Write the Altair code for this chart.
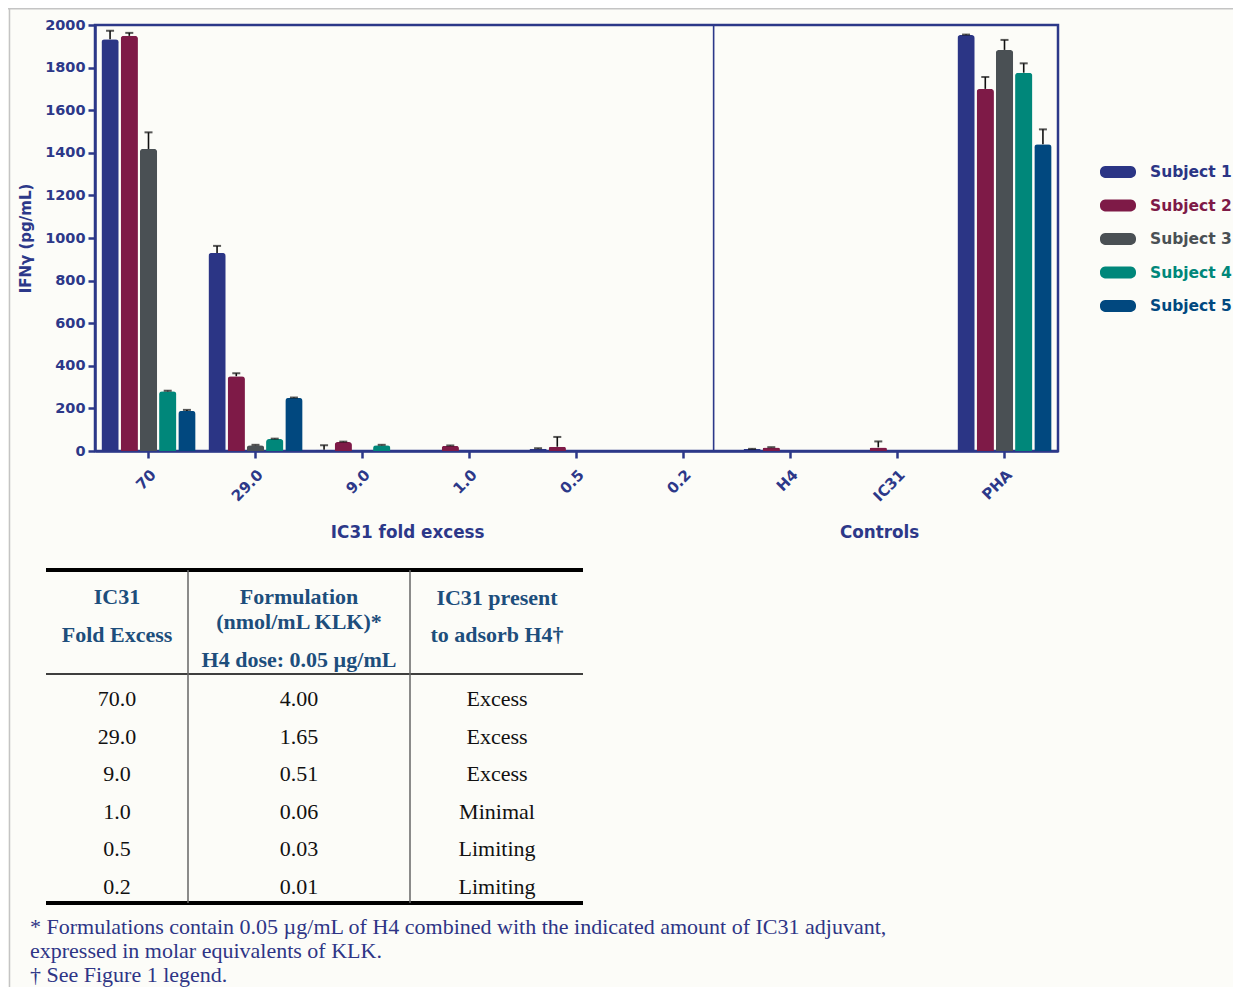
import altair as alt
import pandas as pd

# ---------------- data ----------------
categories = ["70", "29.0", "9.0", "1.0", "0.5", "0.2", "H4", "IC31", "PHA"]
subjects = ["Subject 1", "Subject 2", "Subject 3", "Subject 4", "Subject 5"]
colors = ["#2b3585", "#7e1a47", "#4a5054", "#00877a", "#01487f"]

subject1 = [1933, 930, 6, 3, 11, 0, 9, 0, 1953]
subject2 = [1949, 351, 42, 24, 20, 0, 17, 17, 1700]
subject3 = [1418, 27, 0, 0, 0, 0, 0, 0, 1883]
subject4 = [280, 56, 27, 0, 0, 0, 0, 0, 1776]
subject5 = [188, 249, 0, 0, 0, 0, 0, 0, 1440]

error1 = [40, 33, 21, 0, 2, 0, 1, 0, 2]
error2 = [14, 14, 2, 2, 46, 0, 1, 28, 56]
error3 = [78, 2, 0, 0, 0, 0, 0, 0, 47]
error4 = [3, 2, 2, 0, 0, 0, 0, 0, 44]
error5 = [5, 2, 0, 0, 0, 0, 0, 0, 70]

y_ticks = [0, 200, 400, 600, 800, 1000, 1200, 1400, 1600, 1800, 2000]
y_title = "IFNγ (pg/mL)"
group_titles = ["IC31 fold excess", "Controls"]

fold_excess = ["70.0", "29.0", "9.0", "1.0", "0.5", "0.2"]
formulation = ["4.00", "1.65", "0.51", "0.06", "0.03", "0.01"]
adsorb = ["Excess", "Excess", "Excess", "Minimal", "Limiting", "Limiting"]
header1 = "IC31\nFold Excess"
header2 = "Formulation\n(nmol/mL KLK)*"
header2b = "H4 dose: 0.05 µg/mL"
header3 = "IC31 present\nto adsorb H4†"
footnote = ("* Formulations contain 0.05 µg/mL of H4 combined with the indicated amount of IC31 adjuvant,\n"
            "expressed in molar equivalents of KLK.\n"
            "† See Figure 1 legend.")

# ---------------- tables ----------------
values = [subject1, subject2, subject3, subject4, subject5]
errors = [error1, error2, error3, error4, error5]
rows = []
for subj, vals, errs in zip(subjects, values, errors):
    for c, v, e in zip(categories, vals, errs):
        rows.append({"cat": c, "subject": subj, "value": v, "upper": v + e, "err": e})
df = pd.DataFrame(rows)
err_df = df[(df["err"] > 0) & (df["value"] > 0)]

NAVY = "#2c3889"
W, H = 963, 426

xscale = alt.Scale(domain=categories, paddingInner=0.12, paddingOuter=0.06)
xoff = alt.XOffset("subject:N", scale=alt.Scale(domain=subjects, paddingInner=0.1))
yscale = alt.Scale(domain=[0, 2000])
cscale = alt.Scale(domain=subjects, range=colors)

xenc = alt.X("cat:N", scale=xscale, sort=categories,
             axis=alt.Axis(title=None, labelAngle=-45, labelPadding=9, labelFontSize=15))
yenc = alt.Y("value:Q", scale=yscale,
             axis=alt.Axis(values=y_ticks, format="d", title=y_title, titlePadding=11, labelPadding=3,
                           titleFont="DejaVu Sans", titleFontSize=15, titleFontWeight="bold",
                           titleColor=NAVY))

bars = alt.Chart(df).mark_bar(cornerRadiusTopLeft=3, cornerRadiusTopRight=3).encode(
    x=xenc, xOffset=xoff, y=yenc,
    color=alt.Color("subject:N", scale=cscale, legend=None),
)
err_rule = alt.Chart(err_df).mark_rule(color="#111111", strokeWidth=1.6).encode(
    x=alt.X("cat:N", scale=xscale, sort=categories), xOffset=xoff,
    y=alt.Y("value:Q", scale=yscale), y2="upper:Q",
)
err_cap = alt.Chart(err_df).mark_tick(color="#111111", thickness=2, size=8).encode(
    x=alt.X("cat:N", scale=xscale, sort=categories), xOffset=xoff,
    y=alt.Y("upper:Q", scale=yscale),
)
divider = alt.Chart(pd.DataFrame({"a": [0]})).mark_rule(color=NAVY, strokeWidth=1.6).encode(
    x=alt.XDatum("0.2", type="nominal", bandPosition=0.82),
    y=alt.value(0), y2=alt.value(H),
)
gt1 = alt.Chart(pd.DataFrame({"t": [group_titles[0]]})).mark_text(
    font="DejaVu Sans", fontWeight="bold", fontSize=16.8, color=NAVY, baseline="middle"
).encode(text="t:N", x=alt.XDatum("9.0", type="nominal", bandPosition=0.98), y=alt.value(508))
gt2 = alt.Chart(pd.DataFrame({"t": [group_titles[1]]})).mark_text(
    font="DejaVu Sans", fontWeight="bold", fontSize=16.8, color=NAVY, baseline="middle"
).encode(text="t:N", x=alt.XDatum("IC31", type="nominal", bandPosition=0.31), y=alt.value(508))

bar_group = alt.layer(bars, err_rule, err_cap, divider, gt1, gt2)

# custom legend
leg_df = pd.DataFrame({"subject": subjects})
leg_y = alt.Y("subject:N", scale=alt.Scale(type="point", domain=subjects, range=[147, 281], padding=0), axis=None)
pill = ("M-0.72,-0.333 L0.72,-0.333 A0.3,0.3 0 0 1 1,-0.033 L1,0.033 A0.3,0.3 0 0 1 0.72,0.333 "
        "L-0.72,0.333 A0.3,0.3 0 0 1 -1,0.033 L-1,-0.033 A0.3,0.3 0 0 1 -0.72,-0.333 Z")
leg_sym = alt.Chart(leg_df).mark_point(shape=pill, filled=True, size=1296, opacity=1).encode(
    x=alt.value(1023), y=leg_y, color=alt.Color("subject:N", scale=cscale, legend=None))
leg_txt = alt.Chart(leg_df).mark_text(align="left", baseline="middle", font="DejaVu Sans",
                                      fontWeight="bold", fontSize=15.5).encode(
    x=alt.value(1055), y=leg_y, text="subject:N",
    color=alt.Color("subject:N", scale=cscale, legend=None))
legend_group = alt.layer(leg_sym, leg_txt)

# table
tab_df = pd.DataFrame({"fold": fold_excess, "form": formulation, "ads": adsorb})
row_y = alt.Y("fold:N", scale=alt.Scale(type="point", domain=fold_excess, range=[674, 862], padding=0), axis=None)
SERIF = "Liberation Serif"
HEAD = "#1d4e7c"


def body_col(field, xpos):
    return alt.Chart(tab_df).mark_text(font=SERIF, fontSize=22, color="#111111", baseline="middle").encode(
        x=alt.value(xpos), y=row_y, text=f"{field}:N")


def free_text(txt, xpos, ypos, lh, color, weight="normal", align="center", size=22):
    return alt.Chart(pd.DataFrame({"t": [txt]})).mark_text(
        font=SERIF, fontSize=size, fontWeight=weight, color=color, baseline="middle",
        align=align, lineBreak="\n", lineHeight=lh
    ).encode(text="t:N", x=alt.value(xpos), y=alt.value(ypos))


def hline(ypos, width, color="#000000"):
    return alt.Chart(pd.DataFrame({"a": [0]})).mark_rule(color=color, strokeWidth=width).encode(
        x=alt.value(-49), x2=alt.value(488), y=alt.value(ypos))


def vline(xpos):
    return alt.Chart(pd.DataFrame({"a": [0]})).mark_rule(color="#666666", strokeWidth=1.5).encode(
        x=alt.value(xpos), y=alt.value(545), y2=alt.value(878))


frame_top = alt.Chart(pd.DataFrame({"a": [0]})).mark_rule(color="#c4c4c4", strokeWidth=1.5).encode(
    x=alt.value(-87), x2=alt.value(1138), y=alt.value(-16.3))
frame_left = alt.Chart(pd.DataFrame({"a": [0]})).mark_rule(color="#c4c4c4", strokeWidth=1.5).encode(
    x=alt.value(-85.5), y=alt.value(-17), y2=alt.value(962))

table_group = alt.layer(
    body_col("fold", 22), body_col("form", 204), body_col("ads", 402),
    free_text(header1, 22, 572, 38, HEAD, "bold"),
    free_text(header2, 204, 572, 25, HEAD, "bold"),
    free_text(header2b, 204, 635, 25, HEAD, "bold"),
    free_text(header3, 402, 573, 37, HEAD, "bold"),
    free_text(footnote, -65, 902, 24, "#2e3586", "normal", "left"),
    hline(545, 4), hline(649, 1.5), hline(878, 4),
    vline(93), vline(315),
    frame_top, frame_left,
)

chart = alt.layer(bar_group, legend_group, table_group).resolve_scale(
    x="independent", y="independent"
).properties(
    width=W, height=H,
    autosize=alt.AutoSizeParams(type="none"),
    padding={"left": 87, "top": 17, "right": 175, "bottom": 536},
    background="#fcfcf8",
).configure_view(
    stroke=NAVY, strokeWidth=2.5
).configure_axis(
    grid=False, domainColor=NAVY, domainWidth=2.5, tickColor=NAVY, tickWidth=2.5, tickSize=7,
    labelColor=NAVY, labelFont="DejaVu Sans", labelFontWeight="bold", labelFontSize=14.5,
)

chart.save("out.html", embed_options={"renderer": "svg", "actions": False})
